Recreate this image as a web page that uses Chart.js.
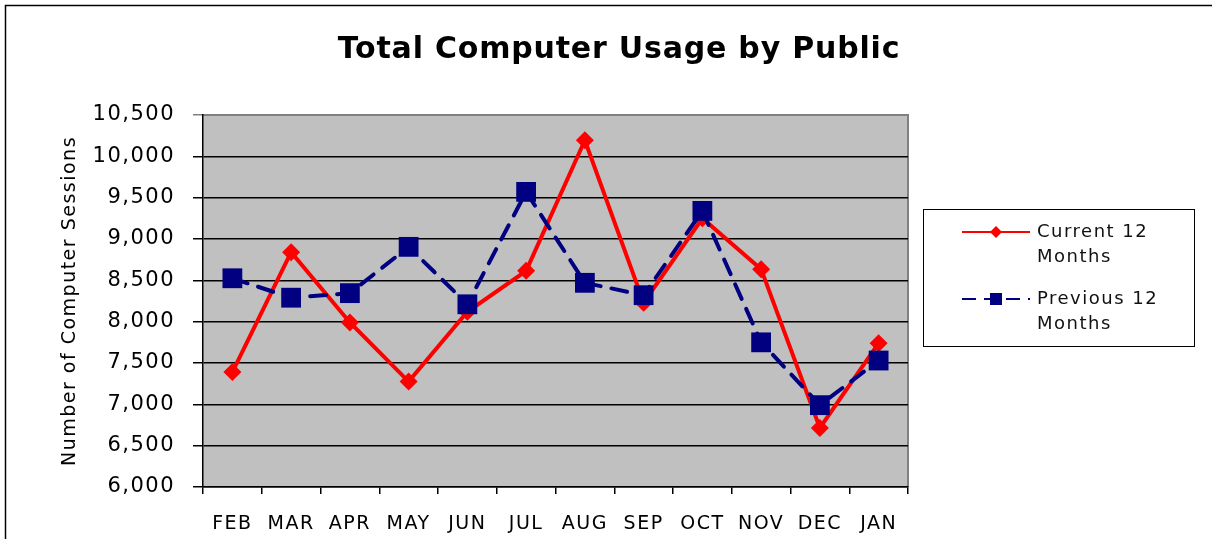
<!DOCTYPE html>
<html>
<head>
<meta charset="utf-8">
<script src="https://cdn.jsdelivr.net/npm/chart.js@4/dist/chart.umd.min.js"></script>
<style>
  html, body { margin: 0; padding: 0; background: #fff; }
  #wrap { width: 1212px; height: 539px; position: relative; }
</style>
</head>
<body>
<div id="wrap"><canvas id="chart"></canvas></div>
<script>
// datos
var months = ['FEB', 'MAR', 'APR', 'MAY', 'JUN', 'JUL', 'AUG', 'SEP', 'OCT', 'NOV', 'DEC', 'JAN'];
var current12 = [7390, 8840, 7990, 7275, 8120, 8615, 10195, 8230, 9250, 8635, 6715, 7740];
var previous12 = [8525, 8290, 8345, 8905, 8210, 9570, 8470, 8320, 9340, 7750, 6990, 7530];
var yMin = 6000, yMax = 10500, yStep = 500;
var chartTitle = 'Total Computer Usage by Public';
var yTitle = 'Number of Computer Sessions';
var legendNames = [['Current 12', 'Months'], ['Previous 12', 'Months']];

var FONT = '"DejaVu Sans", Verdana, sans-serif';
var RED = '#ff0000', NAVY = '#000080';
var SPACING = '1.5px';

function setSpacing(chart) { chart.ctx.letterSpacing = SPACING; }

// fondo gris, borde exterior, titulo y leyenda
var excelLook = {
  id: 'excelLook',
  beforeUpdate: setSpacing,
  beforeLayout: setSpacing,
  beforeDraw: function (chart) {
    setSpacing(chart);
    var ctx = chart.ctx, a = chart.chartArea;
    ctx.save();
    ctx.fillStyle = '#c0c0c0';
    ctx.fillRect(a.left, a.top, a.right - a.left, a.bottom - a.top);
    ctx.strokeStyle = '#808080';
    ctx.lineWidth = 2;
    ctx.beginPath();
    ctx.moveTo(a.left, a.top);
    ctx.lineTo(a.right, a.top);
    ctx.lineTo(a.right, a.bottom);
    ctx.stroke();
    // borde exterior
    ctx.strokeStyle = '#000';
    ctx.lineWidth = 1.5;
    ctx.beginPath();
    ctx.moveTo(5.5, chart.height);
    ctx.lineTo(5.5, 5.5);
    ctx.lineTo(chart.width, 5.5);
    ctx.stroke();
    ctx.restore();
  },
  afterDraw: function (chart) {
    var ctx = chart.ctx;
    ctx.save();
    ctx.letterSpacing = '0.8px';
    ctx.fillStyle = '#000';
    ctx.font = 'bold 30px ' + FONT;
    ctx.textAlign = 'center';
    ctx.textBaseline = 'middle';
    ctx.fillText(chartTitle, 619, 50);

    // leyenda
    ctx.letterSpacing = SPACING;
    var bx = 923, by = 209, bw = 271, bh = 137;
    ctx.strokeStyle = '#000';
    ctx.lineWidth = 1;
    ctx.strokeRect(bx + 0.5, by + 0.5, bw, bh);
    ctx.font = '18px ' + FONT;
    ctx.textAlign = 'left';
    var rows = [232, 299];
    chart.data.datasets.forEach(function (ds, i) {
      var y = rows[i];
      ctx.strokeStyle = ds.borderColor;
      ctx.lineWidth = 2;
      ctx.setLineDash(ds.borderDash ? [14, 8] : []);
      ctx.beginPath();
      ctx.moveTo(962, y);
      ctx.lineTo(1030, y);
      ctx.stroke();
      ctx.setLineDash([]);
      ctx.fillStyle = ds.pointBackgroundColor;
      ctx.beginPath();
      if (ds.pointStyle === 'rectRot') {
        ctx.moveTo(996, y - 6); ctx.lineTo(1002, y); ctx.lineTo(996, y + 6); ctx.lineTo(990, y);
      } else {
        ctx.rect(990, y - 6, 12, 12);
      }
      ctx.closePath();
      ctx.fill();
      ctx.fillStyle = '#111';
      ctx.fillText(legendNames[i][0], 1037, y);
      ctx.fillText(legendNames[i][1], 1037, y + 25);
    });
    ctx.restore();
  }
};

new Chart(document.getElementById('chart'), {
  type: 'line',
  data: {
    labels: months,
    datasets: [{
      label: 'Current 12 Months',
      data: current12,
      borderColor: RED,
      backgroundColor: RED,
      pointBackgroundColor: RED,
      pointBorderColor: RED,
      borderWidth: 4,
      pointStyle: 'rectRot',
      pointRadius: 9,
      pointBorderWidth: 0,
      tension: 0,
      order: 1
    }, {
      label: 'Previous 12 Months',
      data: previous12,
      borderColor: NAVY,
      backgroundColor: NAVY,
      pointBackgroundColor: NAVY,
      pointBorderColor: NAVY,
      borderWidth: 4,
      borderDash: [16, 11],
      borderCapStyle: 'round',
      pointStyle: 'rect',
      pointRadius: 14,
      pointBorderWidth: 0,
      tension: 0,
      order: 0
    }]
  },
  options: {
    responsive: true,
    maintainAspectRatio: false,
    animation: false,
    layout: { padding: { top: 115, right: 304, left: 0, bottom: 0 } },
    plugins: {
      legend: { display: false },
      title: { display: false },
      tooltip: { enabled: false }
    },
    scales: {
      x: {
        offset: true,
        grid: { offset: true, drawOnChartArea: false, color: '#000', tickLength: 7, lineWidth: 1.5 },
        border: { color: '#000', width: 1.5 },
        ticks: { color: '#000', font: { family: FONT, size: 19 }, padding: 19, maxRotation: 0 },
        afterFit: function (s) { s.height = 52; }
      },
      y: {
        min: yMin,
        max: yMax,
        grid: {
          color: function (c) { return c.tick && c.tick.value === yMax ? '#808080' : '#000'; },
          lineWidth: 1.5,
          tickLength: 10
        },
        border: { color: '#000', width: 1.5 },
        ticks: {
          stepSize: yStep,
          color: '#000',
          font: { family: FONT, size: 21 },
          padding: 18,
          callback: function (v) { return v.toLocaleString('en-US'); }
        },
        title: {
          display: true,
          text: yTitle,
          color: '#000',
          font: { family: FONT, size: 19 },
          padding: { top: 59, bottom: 0 }
        },
        afterFit: function (s) { s.width = 203; }
      }
    }
  },
  plugins: [excelLook]
});
</script>
</body>
</html>
